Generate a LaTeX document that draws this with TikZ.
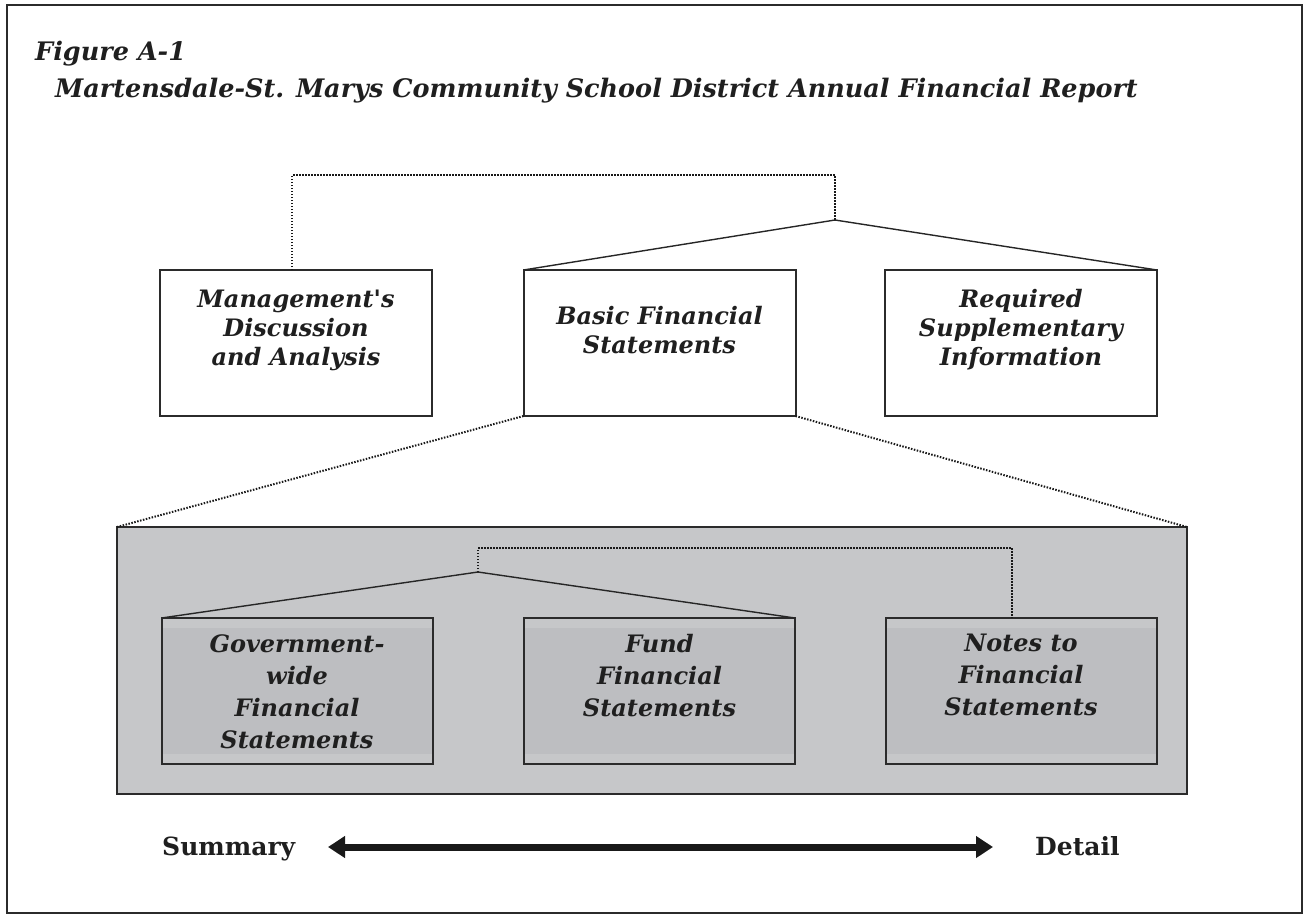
\documentclass[tikz,border=0pt]{standalone}
\usepackage{fontspec}
\setmainfont{DejaVu Serif}
\usetikzlibrary{arrows.meta}
\definecolor{bordergray}{HTML}{2B2B2B}
\definecolor{panelgray}{HTML}{C6C7C9}
\definecolor{innergray}{HTML}{BDBEC1}
\tikzset{
  topbox/.style={draw=bordergray, line width=2pt, fill=white, minimum width=272pt, minimum height=146pt, inner sep=0pt, outer sep=0pt},
  lowbox/.style={draw=bordergray, line width=2pt, fill=panelgray, minimum width=271pt, minimum height=146pt, inner sep=0pt, outer sep=0pt},
  toptext/.style={align=center, font=\fontsize{24}{29}\selectfont\bfseries\itshape, text=black!88, inner sep=0pt},
  lowtext/.style={align=center, font=\fontsize{24}{32}\selectfont\bfseries\itshape, text=black!88, inner sep=0pt},
  titletext/.style={anchor=base west, font=\fontsize{25.5}{30}\selectfont\bfseries\itshape, text=black!88, inner sep=0pt},
  scaletext/.style={anchor=base west, font=\fontsize{25}{30}\selectfont\bfseries, text=black!88, inner sep=0pt},
  dotline/.style={line width=2pt, dash pattern=on 1.5pt off 1.5pt, draw=black!90},
  solidline/.style={line width=1.4pt, draw=black!85},
}
\begin{document}
\begin{tikzpicture}[x=1pt,y=-1pt]
\useasboundingbox (0,0) rectangle (1307,914);
\draw[bordergray, line width=2pt] (7,5) rectangle (1302,913);

\node[titletext] (fig) at (35,60) {Figure A-1};
\node[titletext] (title) at (55,97) {Martensdale-St. Marys Community School District Annual Financial Report};

% top row
\node[topbox] (mda) at (296,343) {};
\node[topbox] (bfs) at (659.5,343) {};
\node[topbox] (rsi) at (1021,343) {};
\node[toptext] (mdat) at (296,330) {Management\textquotesingle s\\Discussion\\and Analysis};
\node[toptext] (bfst) at (659.5,330) {Basic Financial\\Statements};
\node[toptext] (rsit) at (1021,330) {Required\\Supplementary\\Information};

\coordinate (t1) at (835,175);
\coordinate (j1) at (835,220);
\draw[dotline] ([xshift=-4pt]mda.north) |- (t1) -- (j1);
\draw[solidline] (bfs.north west) -- (j1) -- (rsi.north east);

% panel
\node[draw=bordergray, line width=2pt, fill=panelgray, minimum width=1070pt, minimum height=267pt, inner sep=0pt, outer sep=0pt] (panel) at (652,660.5) {};
\draw[dotline] (bfs.south west) -- (panel.north west);
\draw[dotline] (bfs.south east) -- (panel.north east);

\node[lowbox] (gov) at (297,691) {};
\node[lowbox] (fund) at (659.5,691) {};
\node[lowbox] (notes) at (1021,691) {};
\foreach \b in {gov,fund,notes}{
  \fill[innergray] ([xshift=1pt,yshift=-10pt]\b.north west) rectangle ([xshift=-1pt,yshift=10pt]\b.south east);
}
\node[lowtext, anchor=north] (govt) at (297,634) {Government-\\wide\\Financial\\Statements};
\node[lowtext, anchor=north] (fundt) at (659.5,634) {Fund\\Financial\\Statements};
\node[lowtext, anchor=north] (notest) at (1021,634) {Notes to\\Financial\\Statements};

\coordinate (j2) at (478,572);
\coordinate (t2) at (1012,548);
\draw[dotline] (j2) |- (t2) -- ([xshift=-9pt]notes.north);
\draw[solidline] (gov.north west) -- (j2) -- (fund.north east);

% summary / detail
\node[scaletext] (sum) at (162,855) {Summary};
\node[scaletext] (det) at (1035,855) {Detail};
\coordinate (al) at (328,847);
\coordinate (ar) at (993,847);
\draw[line width=7pt, black!90, {Triangle[length=17pt,width=21pt]}-{Triangle[length=17pt,width=21pt]}] (al) -- (ar);
\end{tikzpicture}
\end{document}
